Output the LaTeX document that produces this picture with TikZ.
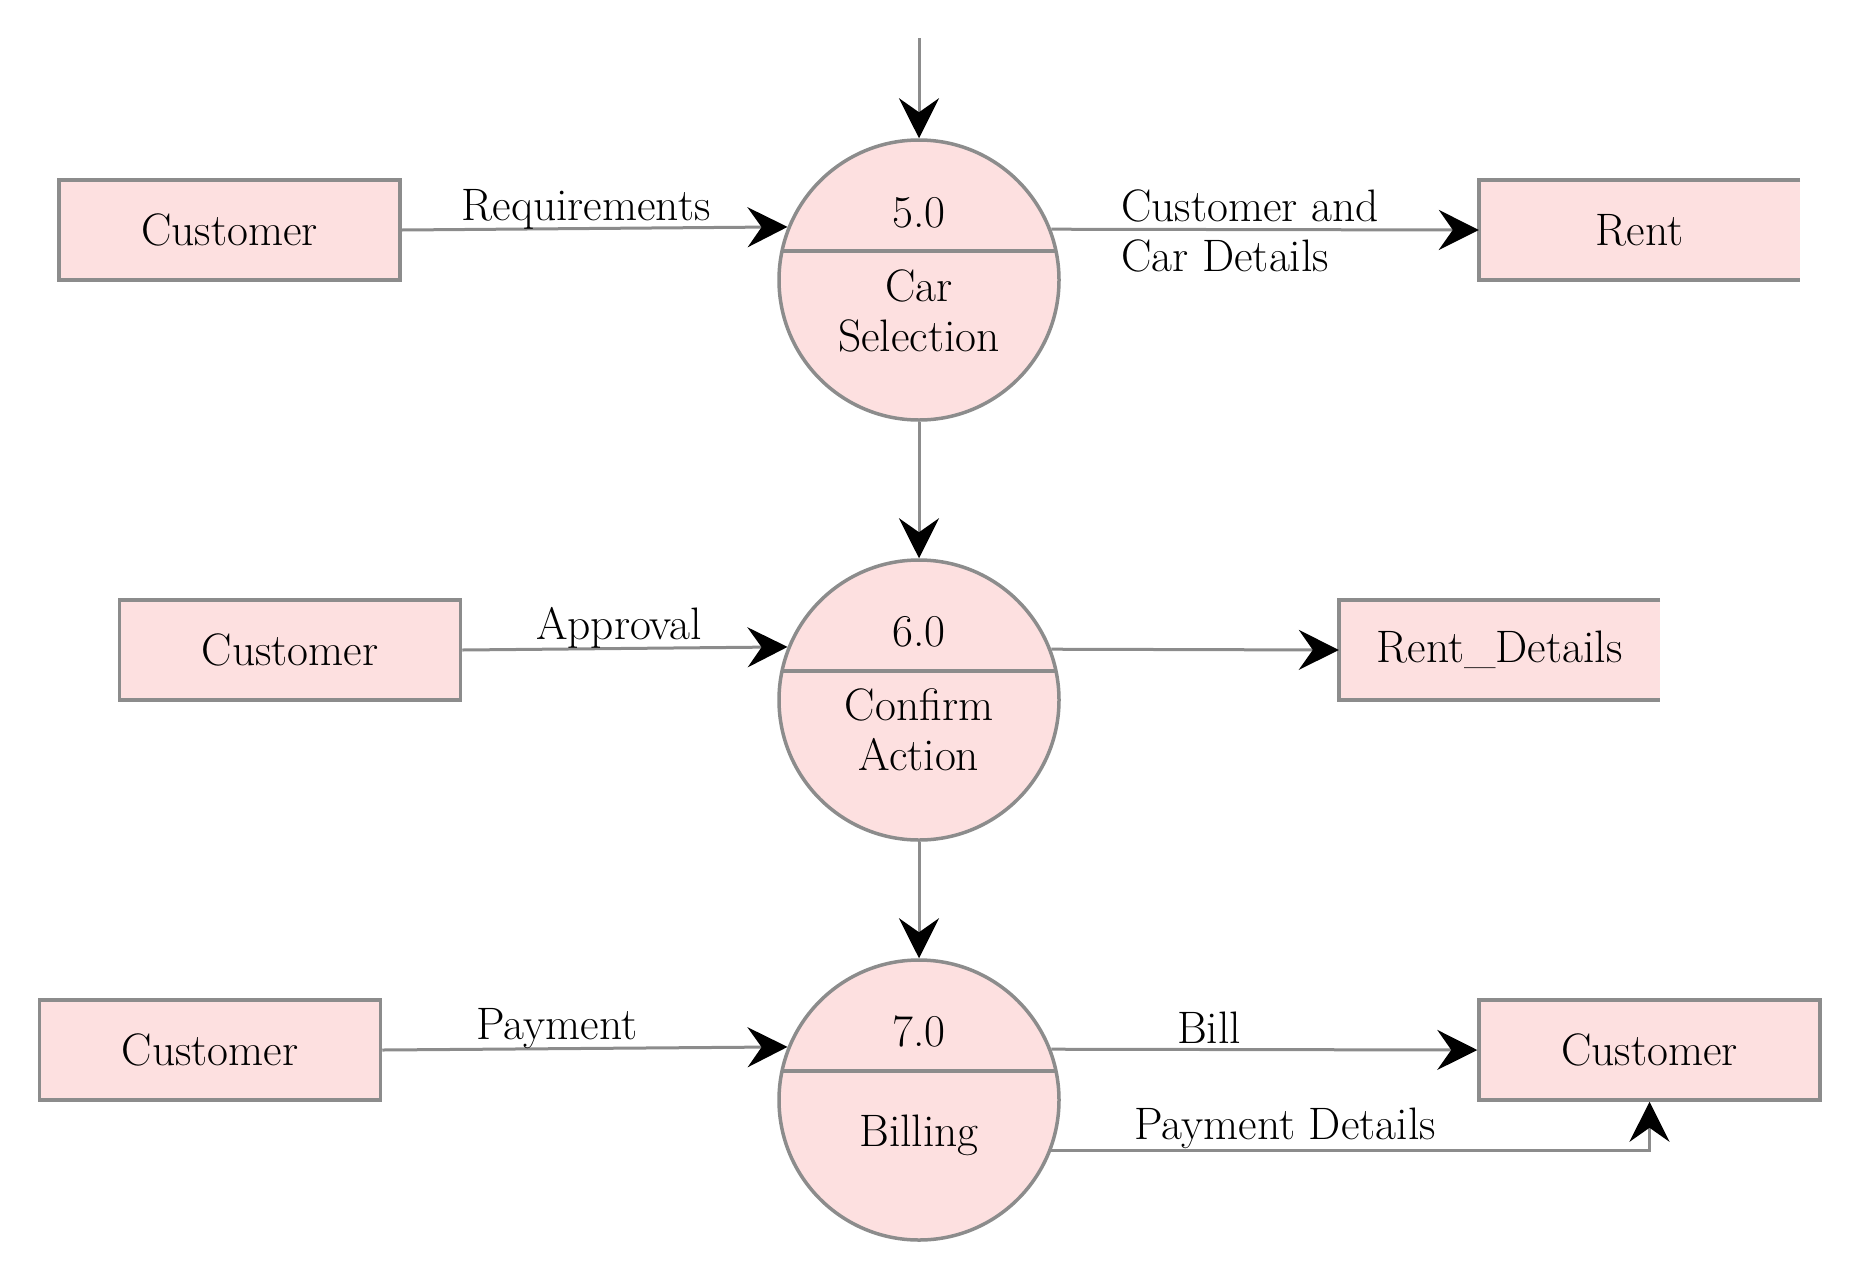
\documentclass[tikz,border=0pt]{standalone}
\usepackage{fontspec}
\usetikzlibrary{arrows.meta,calc}
\definecolor{boxfill}{HTML}{FDE0E0}
\definecolor{edge}{HTML}{8C8C8C}
\tikzset{
  lbl/.style={font=\fontsize{45.5}{50}\selectfont, inner sep=0pt},
  entity/.style={draw=edge, fill=boxfill, line width=3.5pt, minimum width=341pt, minimum height=100pt, inner sep=0pt, font=\fontsize{45.5}{50}\selectfont},
  store/.style={fill=boxfill, minimum width=321pt, minimum height=100pt, inner sep=0pt, font=\fontsize{45.5}{50}\selectfont},
  proc/.style={circle, draw=edge, fill=boxfill, line width=3.5pt, minimum size=280pt, inner sep=0pt},
  flow/.style={draw=edge, line width=3pt, -{Stealth[length=40pt, width=40pt, inset=14pt, black]}}
}
\begin{document}
\begin{tikzpicture}[x=1pt, y=-1pt]
\useasboundingbox (0,0) rectangle (1860,1280);

% processes
\node[proc] (c5) at (919,280) {};
\node[proc] (c6) at (919,700) {};
\node[proc] (c7) at (919,1100) {};
\foreach \c in {c5,c6,c7}{
  \draw[edge, line width=3.5pt] ($(\c.center)+(-137,-29)$) -- ($(\c.center)+(137,-29)$);
}

% process texts
\node[lbl] (t5) at (919,213) {5.0};
\node[lbl, align=center] (n5) at (919,311) {Car\\Selection};
\node[lbl] (t6) at (919,632) {6.0};
\node[lbl, align=center] (n6) at (919,730) {Confirm\\Action};
\node[lbl] (t7) at (919,1031) {7.0};
\node[lbl] (n7) at (919,1135) {Billing};

% entities
\node[entity] (cu1) at (229.5,230) {Customer};
\node[entity] (cu2) at (290,650) {Customer};
\node[entity] (cu3) at (210,1050) {Customer};
\node[entity] (cu4) at (1649.5,1050) {Customer};

% data stores (open on the right)
\node[store] (rent) at (1639.5,230) {Rent};
\draw[edge, line width=3.5pt] (rent.north east) -- (rent.north west) -- (rent.south west) -- (rent.south east);
\node[store] (rd) at (1499.5,650) {Rent\_Details};
\draw[edge, line width=3.5pt] (rd.north east) -- (rd.north west) -- (rd.south west) -- (rd.south east);

% flows
\coordinate (top) at (919,38);
\draw[flow] (top) -- (c5.north);
\draw[flow] (c5.south) -- (c6.north);
\draw[flow] (c6.south) -- (c7.north);

\draw[flow] (cu1.east) -- (c5.158.5);
\draw[flow] (c5.21.5) -- (rent.west);
\draw[flow] (cu2.east) -- (c6.158.5);
\draw[flow] (c6.21.5) -- (rd.west);
\draw[flow] (cu3.east) -- (c7.158.5);
\draw[flow] (c7.21.5) -- (cu4.west);
\draw[flow] (c7.-21) -| (cu4.south);

% flow labels
\node[lbl] (l1) at (586,209) {Requirements};
\node[lbl, align=left, anchor=west] (l2) at (1121,231) {Customer and\\Car Details};
\node[lbl] (l3) at (619,628) {Approval};
\node[lbl] (l4) at (557,1029) {Payment};
\node[lbl] (l5) at (1209,1028) {Bill};
\node[lbl] (l6) at (1285,1128) {Payment Details};
\end{tikzpicture}
\end{document}
